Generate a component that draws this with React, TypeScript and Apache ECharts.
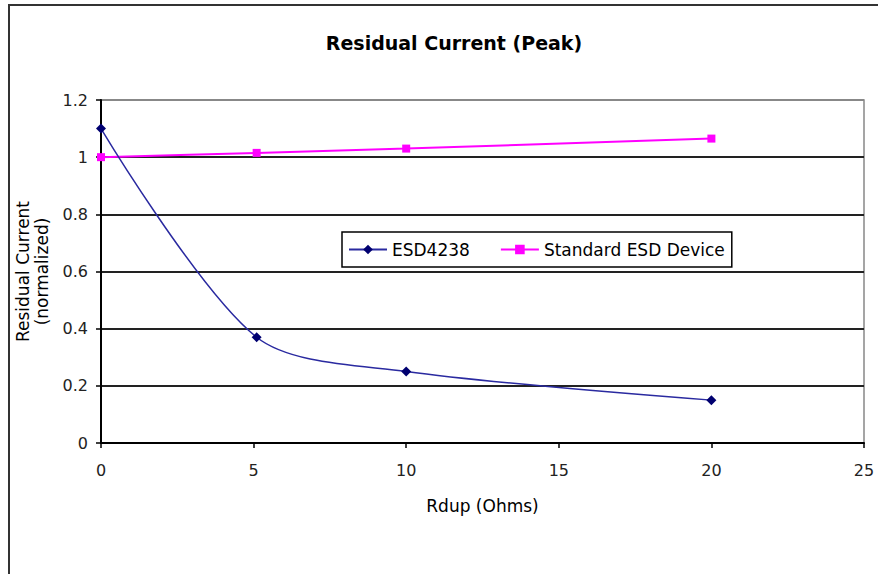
import React, { useEffect, useRef } from "react";
import * as echarts from "echarts";

const esdX = [0, 5.1, 10, 20];
const esdY = [1.1, 0.37, 0.25, 0.15];
const stdX = [0, 5.1, 10, 20];
const stdY = [1.0, 1.015, 1.03, 1.065];
const seriesNames = ["ESD4238", "Standard ESD Device"];
const titleText = "Residual Current (Peak)";
const xName = "Rdup (Ohms)";
const yName = "Residual Current\n(normalized)";

export default function App() {
  const ref = useRef<HTMLDivElement>(null);
  useEffect(() => {
    document.body.style.margin = "0";
    const chart = echarts.init(ref.current!, null, { renderer: "svg" });
    const font = "'DejaVu Sans', Arial, sans-serif";
    chart.setOption({
      animation: false,
      backgroundColor: "#ffffff",
      textStyle: { fontFamily: font },
      title: {
        text: titleText,
        left: 449,
        top: 28,
        textAlign: "center",
        textStyle: { fontSize: 19, fontWeight: "bold", color: "#000", fontFamily: font },
      },
      graphic: [
        {
          type: "rect",
          shape: { x: 9, y: 5, width: 900, height: 600 },
          style: { fill: "none", stroke: "#333", lineWidth: 2 },
          silent: true,
          z: -1,
        },
      ],
      legend: {
        left: 342,
        top: 232,
        orient: "horizontal",
        backgroundColor: "#fff",
        borderColor: "#000",
        borderWidth: 1.5,
        borderRadius: 0,
        padding: [9, 7, 9, 6],
        itemWidth: 38,
        itemHeight: 12,
        itemGap: 30,
        textStyle: { fontSize: 17, color: "#000", fontFamily: font },
        data: seriesNames,
      },
      grid: {
        left: 101,
        top: 100,
        right: 14,
        bottom: 131,
        show: true,
        borderColor: "#888",
        borderWidth: 1.5,
        backgroundColor: "transparent",
      },
      xAxis: {
        type: "value",
        min: 0,
        max: 25,
        interval: 5,
        name: xName,
        nameLocation: "middle",
        nameGap: 54,
        nameTextStyle: { fontSize: 17, color: "#000" },
        axisLine: { show: true, onZero: false, lineStyle: { color: "#000", width: 2 } },
        axisTick: { show: true, inside: false, length: 5, lineStyle: { color: "#000", width: 1.5 } },
        axisLabel: { fontSize: 16, color: "#222", margin: 19 },
        splitLine: { show: false },
      },
      yAxis: {
        type: "value",
        min: 0,
        max: 1.2,
        interval: 0.2,
        name: yName,
        nameLocation: "middle",
        nameRotate: 90,
        nameGap: 49,
        nameTextStyle: { fontSize: 17, color: "#000", lineHeight: 19 },
        axisLine: { show: true, onZero: false, lineStyle: { color: "#000", width: 2 } },
        axisTick: { show: true, inside: false, length: 5, lineStyle: { color: "#000", width: 1.5 } },
        axisLabel: { fontSize: 16, color: "#222", margin: 13 },
        splitLine: {
          show: true,
          lineStyle: {
            color: ["#000", "#222", "#222", "#222", "#222", "#222", "#888"],
            width: 2,
          },
        },
      },
      series: [
        {
          name: seriesNames[0],
          type: "line",
          data: esdX.map((x, i) => [x, esdY[i]]),
          smooth: 0.3,
          symbol: "diamond",
          symbolSize: 10,
          itemStyle: { color: "#000070" },
          lineStyle: { color: "#2a2aa0", width: 1.5 },
          z: 3,
        },
        {
          name: seriesNames[1],
          type: "line",
          data: stdX.map((x, i) => [x, stdY[i]]),
          smooth: 0.3,
          symbol: "rect",
          symbolSize: 8,
          itemStyle: { color: "#ff00ff" },
          lineStyle: { color: "#ff00ff", width: 2 },
          z: 2,
        },
      ],
    });
    return () => chart.dispose();
  }, []);
  return <div ref={ref} style={{ width: 878, height: 574 }} />;
}
